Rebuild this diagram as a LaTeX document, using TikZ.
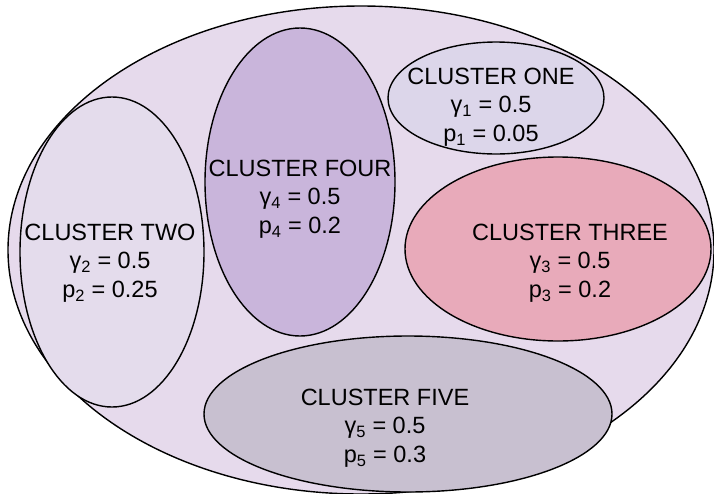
\documentclass[tikz,border=0pt]{standalone}
\usepackage{fontspec}
\setmainfont{Liberation Sans}
\usetikzlibrary{shapes.geometric}
\definecolor{outerc}{HTML}{E6DAEC}
\definecolor{twoc}{HTML}{E4DCEC}
\definecolor{fourc}{HTML}{C9B5DB}
\definecolor{onec}{HTML}{DCD6EA}
\definecolor{threec}{HTML}{E8AABA}
\definecolor{fivec}{HTML}{C8C0D0}
\begin{document}
\begin{tikzpicture}[x=1pt,y=-1pt,
  cl/.style={ellipse, draw=black, line width=1.4pt, inner sep=0pt, outer sep=0pt},
  lbl/.style={align=center, font=\fontsize{23.5}{28.5}\selectfont, inner sep=0pt}]
\fill[white] (0,0) rectangle (714,493);
\useasboundingbox (0,0) rectangle (714,493);
\node[cl, fill=outerc, minimum width=706pt, minimum height=488pt] (outer) at (361,250) {};
\node[cl, fill=twoc, minimum width=184pt, minimum height=310pt] (two) at (112,252) {};
\node[cl, fill=fourc, minimum width=190pt, minimum height=308pt] (four) at (300,182) {};
\node[cl, fill=onec, minimum width=216pt, minimum height=112pt] (one) at (496,98) {};
\node[cl, fill=threec, minimum width=306pt, minimum height=184pt] (three) at (558,249) {};
\node[cl, fill=fivec, minimum width=408pt, minimum height=156pt] (five) at (408,414) {};
\node[lbl] (tone) at (491,107) {CLUSTER ONE\\γ\textsubscript{1} = 0.5\\p\textsubscript{1} = 0.05};
\node[lbl] (tfour) at (300,199) {CLUSTER FOUR\\γ\textsubscript{4} = 0.5\\p\textsubscript{4} = 0.2};
\node[lbl] (ttwo) at (110,263) {CLUSTER TWO\\γ\textsubscript{2} = 0.5\\p\textsubscript{2} = 0.25};
\node[lbl] (tthree) at (570,263) {CLUSTER THREE\\γ\textsubscript{3} = 0.5\\p\textsubscript{3} = 0.2};
\node[lbl] (tfive) at (385,428) {CLUSTER FIVE\\γ\textsubscript{5} = 0.5\\p\textsubscript{5} = 0.3};
\end{tikzpicture}
\end{document}
